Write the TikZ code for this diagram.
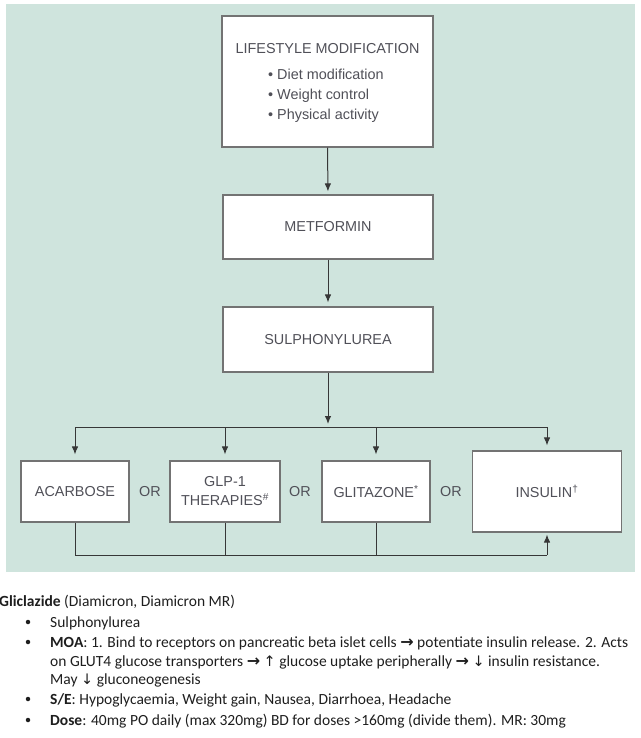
\documentclass[tikz,border=0pt]{standalone}
\usepackage{fontspec}
\setmainfont{Liberation Sans}
\newfontfamily\calfont{Carlito}
\newfontfamily\symfont{DejaVu Sans}
\usetikzlibrary{arrows.meta}
\definecolor{bgmint}{RGB}{207,228,221}
\definecolor{boxline}{RGB}{115,115,115}
\definecolor{connc}{RGB}{55,55,55}
\definecolor{boxtext}{RGB}{80,80,88}
\definecolor{bodytext}{RGB}{30,30,30}
\newcommand{\myra}{\raisebox{-0.3bp}{\symfont\bfseries\fontsize{16bp}{16bp}\selectfont →}}
\newcommand{\myup}{{\symfont\fontsize{14.5bp}{14.5bp}\selectfont ↑}}
\newcommand{\mydn}{{\symfont\fontsize{14.5bp}{14.5bp}\selectfont ↓}}
\begin{document}
\begin{tikzpicture}[x=1bp,y=-1bp,
  box/.style={draw=boxline, line width=1.1bp, fill=white, inner sep=0pt, text=boxtext,
    font=\fontsize{14.4bp}{19bp}\selectfont, align=center},
  lbl/.style={inner sep=0pt, text=boxtext, font=\fontsize{14.4bp}{19bp}\selectfont},
  conn/.style={draw=connc, line width=1bp},
  arr/.style={conn, -{Latex[length=8bp,width=6.5bp]}},
  body/.style={anchor=base west, inner sep=0pt, text=bodytext,
    font=\calfont\fontsize{15.5bp}{19bp}\selectfont},
  dot/.style={circle, fill=bodytext, inner sep=0pt, minimum size=4.5bp}]
\useasboundingbox (0,0) rectangle (641,738);
\fill[bgmint] (6,4) rectangle (635,572);

% boxes
\node[box, minimum width=211bp, minimum height=131bp] (life) at (327.5,81.5) {};
\node[lbl, anchor=base] (lifet) at (327.5,54) {LIFESTYLE MODIFICATION};
\node[lbl, anchor=base west] (l1) at (268,79) {• Diet modification};
\node[lbl, anchor=base west] (l2) at (268,99) {• Weight control};
\node[lbl, anchor=base west] (l3) at (268,119) {• Physical activity};

\node[box, minimum width=210bp, minimum height=64bp] (met) at (328,227) {METFORMIN};
\node[box, minimum width=210bp, minimum height=65bp] (sul) at (328,339.5) {SULPHONYLUREA};

\node[box, minimum width=108bp, minimum height=61bp] (aca) at (75,491.5) {ACARBOSE};
\node[box, minimum width=110bp, minimum height=61bp] (glp) at (225,491.5) {GLP-1\\THERAPIES\textsuperscript{\#}};
\node[box, minimum width=108bp, minimum height=61bp] (gli) at (376,491.5) {GLITAZONE\textsuperscript{*}};
\node[box, minimum width=149bp, minimum height=81bp] (ins) at (547,491.5) {INSULIN\textsuperscript{†}};

\node[lbl] (or1) at (150,492) {OR};
\node[lbl] (or2) at (300,492) {OR};
\node[lbl] (or3) at (451,492) {OR};

% connectors
\draw[arr, shorten >=3bp] (life.south) -- (met.north);
\draw[arr, shorten >=4bp] (met.south) -- (sul.north);
\coordinate (j) at (328,427);
\coordinate (jl) at (75,427);
\coordinate (jg) at (225,427);
\coordinate (jz) at (376,427);
\coordinate (jr) at (547,427);
\draw[arr, shorten >=3bp] (sul.south) -- (j);
\draw[conn] (jl) -- (jr);
\draw[arr, shorten >=6bp] (jl) -- (aca.north);
\draw[arr, shorten >=6bp] (jg) -- (glp.north);
\draw[arr, shorten >=6bp] (jz) -- (gli.north);
\draw[arr, shorten >=5bp] (jr) -- (ins.north);
\coordinate (bl) at (75,555);
\coordinate (bg) at (225,555);
\coordinate (bz) at (376,555);
\coordinate (br) at (547,555);
\draw[conn] (aca.south) -- (bl) -- (br);
\draw[conn] (glp.south) -- (bg);
\draw[conn] (gli.south) -- (bz);
\draw[arr, shorten >=2bp] (br) -- (ins.south);

% text below
\node[body] (g0) at (-1,606) {\textbf{Gliclazide} (Diamicron, Diamicron MR)};
\node[dot] (d1) at (28,622) {};
\node[body] (t1) at (50,627) {Sulphonylurea};
\node[dot] (d2) at (28,642) {};
\node[body] (t2) at (50,647) {\textbf{MOA}: 1. Bind to receptors on pancreatic beta islet cells \myra{} potentiate insulin release. 2. Acts};
\node[body] (t2b) at (50,666) {on GLUT4 glucose transporters \myra{} \myup{} glucose uptake peripherally \myra{} \mydn{} insulin resistance.};
\node[body] (t2c) at (50,684) {May \mydn{} gluconeogenesis};
\node[dot] (d3) at (28,699) {};
\node[body] (t3) at (50,704) {\textbf{S/E}: Hypoglycaemia, Weight gain, Nausea, Diarrhoea, Headache};
\node[dot] (d4) at (28,720) {};
\node[body] (t4) at (50,725) {\textbf{Dose}: 40mg PO daily (max 320mg) BD for doses >160mg (divide them). MR: 30mg};
\end{tikzpicture}
\end{document}
